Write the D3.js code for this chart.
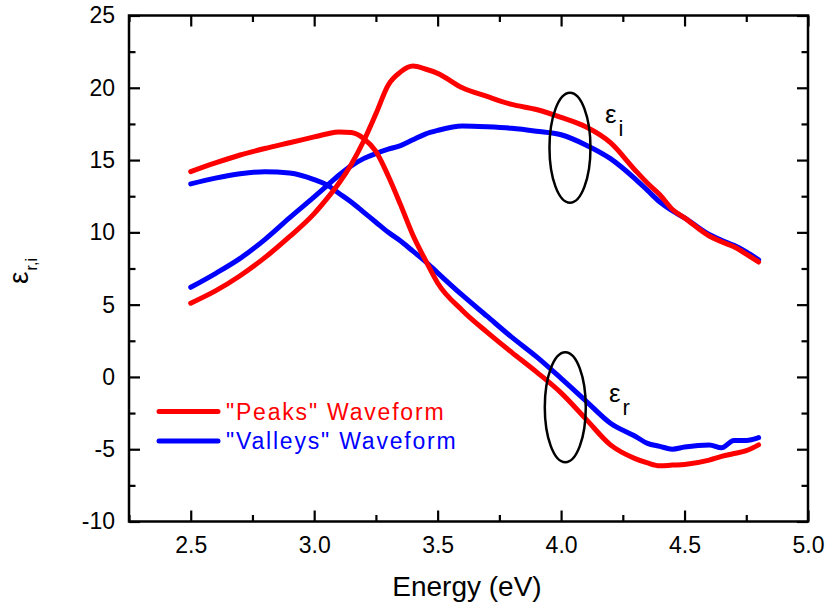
<!DOCTYPE html>
<html>
<head>
<meta charset="utf-8">
<script src="https://cdn.jsdelivr.net/npm/d3@7"></script>
<style>
  html, body { margin: 0; padding: 0; background: #fff; }
  svg { display: block; }
  text { font-family: "Liberation Sans", Arial, sans-serif; }
</style>
</head>
<body>
<svg id="chart" width="826" height="606"></svg>
<script>
// ---- data ----
const energy = [2.5, 2.6, 2.7, 2.8, 2.9, 3.0, 3.05, 3.1, 3.15, 3.2, 3.25, 3.3, 3.35, 3.4, 3.45, 3.5,
                3.6, 3.7, 3.8, 3.9, 4.0, 4.1, 4.2, 4.3, 4.35, 4.4, 4.45, 4.5, 4.6, 4.65, 4.7, 4.75, 4.8];
const peaksReal = [14.2, 14.8, 15.35, 15.8, 16.2, 16.6, 16.8, 16.95, 16.9, 16.5, 15.6, 13.9, 11.9, 9.8, 8.1, 6.5,
                   4.6, 3.1, 1.7, 0.35, -1.1, -2.9, -4.7, -5.65, -5.95, -6.15, -6.1, -6.05, -5.75, -5.5, -5.3, -5.1, -4.7];
const valleysReal = [13.35, 13.75, 14.05, 14.2, 14.1, 13.65, 13.3, 12.7, 12.1, 11.4, 10.7, 10.0, 9.4, 8.7, 8.0, 7.2,
                     5.65, 4.2, 2.75, 1.4, -0.1, -1.65, -3.2, -4.1, -4.6, -4.8, -5.0, -4.85, -4.7, -4.9, -4.4, -4.4, -4.2];
const peaksImag = [5.1, 5.95, 7.0, 8.25, 9.7, 11.3, 12.3, 13.4, 14.7, 16.3, 18.2, 20.2, 21.1, 21.5, 21.3, 21.0,
                   20.0, 19.4, 18.85, 18.5, 17.95, 17.3, 16.2, 14.3, 13.4, 12.6, 11.6, 11.0, 9.75, 9.35, 9.0, 8.5, 7.95];
const valleysImag = [6.2, 7.15, 8.2, 9.5, 11.0, 12.45, 13.2, 13.95, 14.6, 15.1, 15.45, 15.75, 16.0, 16.4, 16.8, 17.05,
                     17.35, 17.3, 17.2, 17.0, 16.75, 16.05, 15.1, 13.7, 12.9, 12.1, 11.5, 11.0, 9.85, 9.45, 9.1, 8.65, 8.1];
const xTicks = [2.5, 3.0, 3.5, 4.0, 4.5, 5.0];
const yTicks = [-10, -5, 0, 5, 10, 15, 20, 25];
const seriesNames = ['"Peaks" Waveform', '"Valleys" Waveform'];
// annotation ellipses (data coords of centres)
const ellipseI = {e: 4.036, v: 15.85};
const ellipseR = {e: 4.017, v: -2.1};

// ---- layout ----
const svg = d3.select("#chart");
const L = 129, R = 808, T = 15.5, B = 521.5;
const x = d3.scaleLinear().domain([2.25, 5.0]).range([L, R]);
const y = d3.scaleLinear().domain([-10, 25]).range([B, T]);
const RED = "#ff0000", BLUE = "#0000ff";

const majorLen = 11, minorLen = 6.5;
const xMinor = d3.range(2.25, 5.0001, 0.25).filter(v => !xTicks.some(t => Math.abs(t - v) < 1e-6));
const yMinor = d3.range(-10, 25.0001, 2.5).filter(v => !yTicks.some(t => Math.abs(t - v) < 1e-6));

function axisG(axisFn, scale, vals, len, tx, ty, labels) {
  const g = svg.append("g").attr("transform", `translate(${tx},${ty})`);
  const a = axisFn(scale).tickValues(vals).tickSizeInner(-len).tickSizeOuter(0);
  if (labels) a.tickFormat(labels);
  else a.tickFormat("");
  g.call(a);
  g.select(".domain").remove();
  g.selectAll(".tick line").attr("stroke", "#000").attr("stroke-width", 2.2);
  return g;
}
const hyphenFmt = v => String(v).replace("\u2212", "-");
// bottom
const gxb = axisG(d3.axisBottom, x, xTicks, majorLen, 0, B, d3.format(".1f"));
gxb.selectAll(".tick text").attr("font-size", 23).attr("fill", "#000").attr("dy", "0.71em").attr("y", 15);
axisG(d3.axisBottom, x, xMinor, minorLen, 0, B, null);
// top
axisG(d3.axisTop, x, xTicks, majorLen, 0, T, null);
axisG(d3.axisTop, x, xMinor, minorLen, 0, T, null);
// left
const gyl = axisG(d3.axisLeft, y, yTicks, majorLen, L, 0, hyphenFmt);
gyl.selectAll(".tick text").attr("font-size", 23).attr("fill", "#000").attr("x", -14);
axisG(d3.axisLeft, y, yMinor, minorLen, L, 0, null);
// right
axisG(d3.axisRight, y, yTicks, majorLen, R, 0, null);
axisG(d3.axisRight, y, yMinor, minorLen, R, 0, null);

// frame
svg.append("rect").attr("x", L).attr("y", T).attr("width", R - L).attr("height", B - T)
  .attr("fill", "none").attr("stroke", "#000").attr("stroke-width", 2.5);

// ---- lines ----
const line = d3.line().x(d => x(d[0])).y(d => y(d[1])).curve(d3.curveMonotoneX);
const series = [
  {vals: valleysReal, color: BLUE},
  {vals: valleysImag, color: BLUE},
  {vals: peaksReal, color: RED},
  {vals: peaksImag, color: RED},
];
series.forEach(s => {
  svg.append("path").datum(energy.map((e, i) => [e, s.vals[i]]))
    .attr("d", line).attr("fill", "none").attr("stroke", s.color)
    .attr("stroke-width", 5).attr("stroke-linejoin", "round").attr("stroke-linecap", "round");
});

// ---- ellipses + labels ----
[ellipseI, ellipseR].forEach(c => {
  svg.append("ellipse").attr("cx", x(c.e)).attr("cy", y(c.v)).attr("rx", 20.5).attr("ry", 55)
    .attr("fill", "none").attr("stroke", "#000").attr("stroke-width", 2.5);
});
function epsLabel(px, py, sub, size, subSize, dy) {
  const t = svg.append("text").attr("x", px).attr("y", py).attr("font-size", size).attr("fill", "#000");
  t.append("tspan").text("ε");
  t.append("tspan").attr("font-size", subSize).attr("dy", dy).attr("dx", 2).text(sub);
  return t;
}
epsLabel(605, 123, "i", 26, 22, 13);
epsLabel(609, 402, "r", 26, 22, 13);

// ---- legend ----
const legend = [
  {name: seriesNames[0], color: RED, yy: 411.5},
  {name: seriesNames[1], color: BLUE, yy: 441},
];
legend.forEach(l => {
  svg.append("line").attr("x1", 159).attr("x2", 218).attr("y1", l.yy).attr("y2", l.yy)
    .attr("stroke", l.color).attr("stroke-width", 5).attr("stroke-linecap", "round");
  svg.append("text").attr("x", 226).attr("y", l.yy + 8).attr("font-size", 23)
    .attr("letter-spacing", 1.8).attr("fill", l.color).text(l.name);
});

// ---- axis titles ----
svg.append("text").attr("x", 467).attr("y", 596).attr("text-anchor", "middle")
  .attr("font-size", 28).attr("fill", "#000").text("Energy (eV)");
const yt = svg.append("text").attr("transform", "translate(28,271) rotate(-90)")
  .attr("text-anchor", "middle").attr("font-size", 28).attr("fill", "#000");
yt.append("tspan").text("ε");
yt.append("tspan").attr("font-size", 16).attr("dy", 9).attr("dx", 1).text("r,i");
</script>
</body>
</html>
